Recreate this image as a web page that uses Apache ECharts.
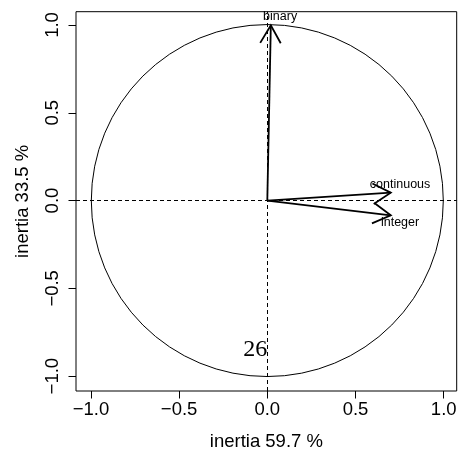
<!DOCTYPE html>
<html>
<head>
<meta charset="utf-8">
<script src="https://cdn.jsdelivr.net/npm/echarts@6/dist/echarts.min.js"></script>
<style>
html,body{margin:0;padding:0;background:#fff;}
#chart{width:461px;height:456px;}
</style>
</head>
<body>
<div id="chart"></div>
<script>
// Data
const variables = ['binary', 'continuous', 'integer'];
const dim1 = [0.02, 0.70, 0.70];
const dim2 = [0.998, 0.045, -0.084];
const xTicks = [-1.0, -0.5, 0.0, 0.5, 1.0];
const yTicks = [-1.0, -0.5, 0.0, 0.5, 1.0];
const xTitle = 'inertia 59.7 %';
const yTitle = 'inertia 33.5 %';
const annotationText = '26';
const annotationPoint = [0, -0.85];
const circleRadius = [1];

const chart = echarts.init(document.getElementById('chart'), null, {renderer: 'canvas'});
const fmt = v => v.toFixed(1).replace('-', '\u2212');
const FONT = 'Liberation Sans, Arial, sans-serif';

const arrowData = variables.map((n, i) => [dim1[i], dim2[i], n]);

function renderArrow(params, api) {
  const x = api.value(0), y = api.value(1);
  const name = variables[params.dataIndex];
  const p0 = api.coord([0, 0]);
  const p1 = api.coord([x, y]);
  const ang = Math.atan2(p1[1] - p0[1], p1[0] - p0[0]);
  const L = 20.5, a = Math.PI / 6;
  const b1 = [p1[0] - L * Math.cos(ang - a), p1[1] - L * Math.sin(ang - a)];
  const b2 = [p1[0] - L * Math.cos(ang + a), p1[1] - L * Math.sin(ang + a)];
  const ly = y >= 0 ? -8.3 : 7.5;
  return {
    type: 'group',
    children: [
      {type: 'line', shape: {x1: p0[0], y1: p0[1], x2: p1[0], y2: p1[1]},
       style: {stroke: '#000', lineWidth: 1.8}},
      {type: 'polyline', shape: {points: [b1, p1, b2]},
       style: {stroke: '#000', lineWidth: 1.8, fill: null}},
      {type: 'text', x: p1[0] + 9.3, y: p1[1] + ly,
       style: {text: name, fill: '#000', font: '12.5px ' + FONT,
               align: 'center', verticalAlign: 'middle'}}
    ]
  };
}

function renderCircle(params, api) {
  const c = api.coord([0, 0]);
  const r = api.size([api.value(0), api.value(0)]);
  return {
    type: 'circle',
    shape: {cx: c[0], cy: c[1], r: (r[0] + r[1]) / 2},
    style: {stroke: '#000', lineWidth: 1, fill: null}
  };
}

function renderAnnot(params, api) {
  const p = api.coord([api.value(0), api.value(1)]);
  return {
    type: 'text', x: p[0], y: p[1],
    style: {text: annotationText, fill: '#000', font: '24px "Liberation Serif", serif',
            align: 'right', verticalAlign: 'middle'}
  };
}

const axisCommon = {
  type: 'value',
  axisLine: {show: false, onZero: false},
  splitLine: {show: false},
  axisTick: {show: true, length: 7.5, lineStyle: {color: '#000', width: 1}},
  nameLocation: 'middle',
  nameTextStyle: {color: '#000', fontSize: 18.5, fontFamily: FONT}
};

chart.setOption({
  animation: false,
  backgroundColor: '#fff',
  grid: {left: 76, top: 11.7, right: 4.3, bottom: 63.7, show: true,
         borderColor: '#000', borderWidth: 1, backgroundColor: 'transparent'},
  xAxis: Object.assign({}, axisCommon, {
    min: -1.0845, max: 1.0737,
    name: xTitle, nameGap: 41,
    axisTick: Object.assign({}, axisCommon.axisTick, {customValues: xTicks}),
    axisLabel: {customValues: xTicks, formatter: fmt, color: '#000',
                fontSize: 18.5, fontFamily: FONT, margin: 9}
  }),
  yAxis: Object.assign({}, axisCommon, {
    min: -1.0846, max: 1.0755,
    name: yTitle, nameGap: 44,
    axisTick: Object.assign({}, axisCommon.axisTick, {customValues: yTicks}),
    axisLabel: {customValues: yTicks, formatter: fmt, color: '#000', rotate: 90,
                fontSize: 18.5, fontFamily: FONT, margin: 14}
  }),
  series: [
    {
      type: 'custom', renderItem: renderCircle, data: [circleRadius],
      silent: true, clip: false,
      markLine: {
        silent: true, symbol: 'none', label: {show: false},
        lineStyle: {color: '#000', type: [4, 3], width: 1},
        data: [{xAxis: 0}, {yAxis: 0}]
      }
    },
    {type: 'custom', renderItem: renderArrow, data: arrowData, silent: true, clip: false},
    {type: 'custom', renderItem: renderAnnot, data: [annotationPoint], silent: true, clip: false}
  ]
});
</script>
</body>
</html>
